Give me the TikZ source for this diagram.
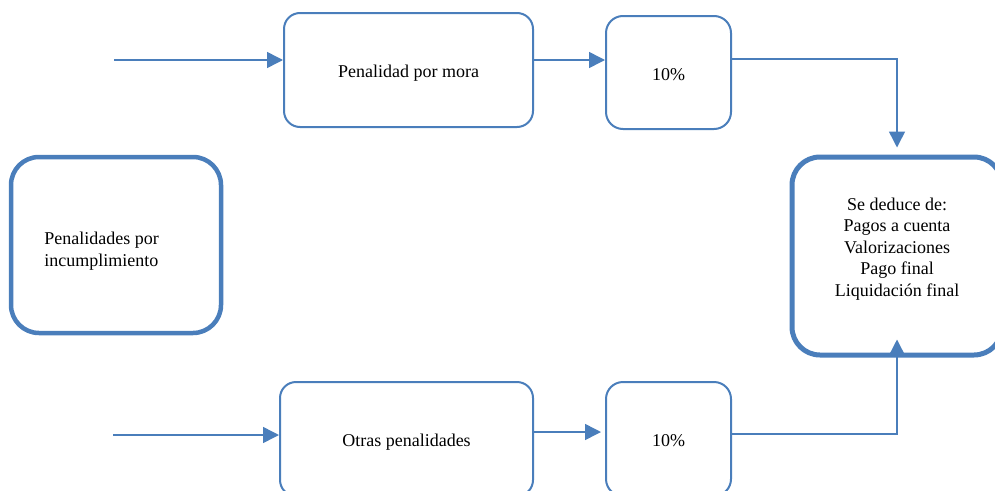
\documentclass[tikz,border=0pt]{standalone}
\usepackage{fontspec}
\setmainfont{Liberation Serif}
\usetikzlibrary{arrows.meta}
\definecolor{boxblue}{RGB}{74,126,187}
\begin{document}
\begin{tikzpicture}[x=1pt,y=-1pt,
  box/.style={draw=boxblue, line width=2pt, rounded corners=16pt, inner sep=0pt,
    font=\fontsize{18}{21.5}\selectfont, text=black},
  onebox/.style={box, text height=15.4pt, text depth=0pt},
  bigbox/.style={box, line width=4.5pt, rounded corners=28pt},
  conn/.style={draw=boxblue, line width=1.5pt, -{Triangle[length=16pt,width=16pt]}}]
\useasboundingbox (0,0) rectangle (995,490);
\clip (0,0) rectangle (995,490);
% boxes
\node[onebox, minimum width=249pt, minimum height=114pt] (pen) at (408.5,70) {Penalidad por mora};
\node[onebox, rounded corners=17pt, minimum width=125pt, minimum height=113pt] (pct1) at (668.5,72.5) {10\%};
\node[bigbox, minimum width=210pt, minimum height=176pt] (pin) at (116,245)
  {\begin{tabular}{@{}l@{\hspace{29pt}}}\rule{0pt}{27pt}Penalidades por\\incumplimiento\end{tabular}};
\node[bigbox, line width=5pt, minimum width=210pt, minimum height=198pt] (res) at (897,256)
  {\begin{tabular}{@{}c@{}}Se deduce de:\\Pagos a cuenta\\Valorizaciones\\Pago final\\Liquidación final\\[14pt]\end{tabular}};
\node[onebox, minimum width=253pt, minimum height=114pt] (otras) at (406.5,439) {Otras penalidades};
\node[onebox, rounded corners=17pt, minimum width=125pt, minimum height=114pt] (pct2) at (668.5,439) {10\%};
% helper coordinates
\coordinate (s1) at (114,60);
\coordinate (s2) at (113,435);
\coordinate (t1) at (898,59);
\coordinate (m2) at (560,432);
\coordinate (b1) at (898,434);
% connectors
\draw[conn] (s1) -- (s1 -| pen.west);
\draw[conn] (pen.east |- s1) -- (pct1.west |- s1);
\draw[conn] (pct1.east |- t1) -| ([yshift=7pt]res.north);
\draw[conn] (s2) -- (s2 -| otras.west);
\draw[conn, shorten >=4pt] (otras.east |- m2) -- (pct2.west |- m2);
\draw[conn] (pct2.east |- b1) -| ([yshift=18pt]res.south);
\end{tikzpicture}
\end{document}
